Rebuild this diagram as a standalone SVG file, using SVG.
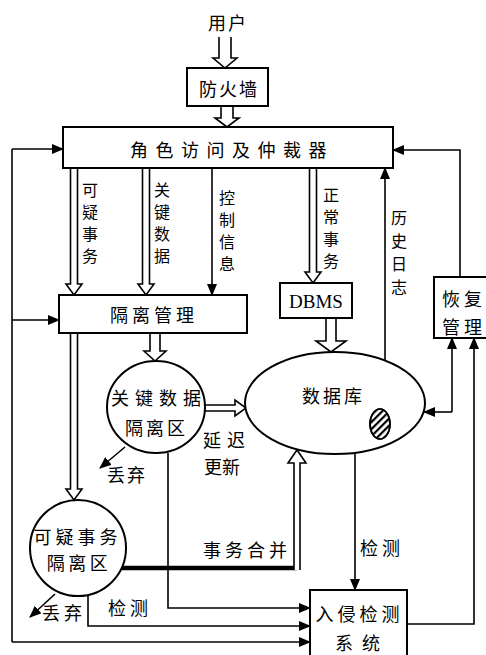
<svg xmlns="http://www.w3.org/2000/svg" width="486" height="655" viewBox="0 0 486 655">
<style>
.box{fill:#fff;stroke:#000;stroke-width:2}
.ln{fill:none;stroke:#000;stroke-width:1.6}
.thick{fill:none;stroke:#000;stroke-width:4.5}
.hol{fill:#fff;stroke:#000;stroke-width:1.6;stroke-linejoin:miter}
.t{font-family:"Noto Sans CJK SC","Noto Sans CJK JP",sans-serif;font-size:18px;text-anchor:middle;dominant-baseline:central;fill:#000}
.v{font-family:"Noto Sans CJK SC","Noto Sans CJK JP",sans-serif;font-size:16px;text-anchor:middle;dominant-baseline:central;fill:#000}
.s{font-family:"Liberation Serif",serif;font-size:19px;text-anchor:middle;dominant-baseline:central;fill:#000}
</style>
<defs>
<marker id="ah" markerWidth="12" markerHeight="10" refX="11" refY="5" orient="auto" markerUnits="userSpaceOnUse"><path d="M0,0 L12,5 L0,10 z" fill="#000"/></marker>
<pattern id="hatch" width="5" height="5" patternUnits="userSpaceOnUse" patternTransform="rotate(-45)"><rect width="5" height="2.2" fill="#000"/></pattern>
</defs>
<rect width="486" height="655" fill="#fff"/>

<g id="connectors">
  <polyline class="hol" points="219,37 219,58 213,58 225,68 237,58 231,58 231,37"/>
  <polyline class="hol" points="221,106 221,118 215,118 227,127 239,118 233,118 233,106"/>
  <polyline class="hol" points="70.5,168 70.5,284 66,284 74,295 82,284 77.5,284 77.5,168"/>
  <polyline class="hol" points="142.5,168 142.5,284 138,284 146,295 154,284 149.5,284 149.5,168"/>
  <line class="ln" x1="212" y1="168" x2="212" y2="295" marker-end="url(#ah)"/>
  <polyline class="hol" points="309.5,168 309.5,272 305,272 313,283 321,272 316.5,272 316.5,168"/>
  <line class="ln" x1="385" y1="361" x2="385" y2="168" marker-end="url(#ah)"/>
  <path class="ln" d="M12,149 V642"/>
  <line class="ln" x1="12" y1="149" x2="63" y2="149" marker-end="url(#ah)"/>
  <line class="ln" x1="12" y1="320" x2="59" y2="320" marker-end="url(#ah)"/>
  <line class="ln" x1="12" y1="642" x2="310" y2="642" marker-end="url(#ah)"/>
  <path class="ln" d="M460,277 V150 H393" marker-end="url(#ah)"/>
  <polyline class="hol" points="150,333 150,351 144,351 155,361 166,351 160,351 160,333"/>
  <polyline class="hol" points="70.5,333 70.5,489 66,489 74,500 82,489 77.5,489 77.5,333"/>
  <polyline class="hol" points="326,318 326,341 316,341 331,352 346,341 336,341 336,318"/>
  <polyline class="hol" points="205,405 235,405 235,400 246,408 235,416 235,411 205,411"/>
  <line class="ln" x1="125" y1="447" x2="100" y2="468" marker-end="url(#ah)"/>
  <line class="ln" x1="55" y1="594" x2="30" y2="617" marker-end="url(#ah)"/>
  <path class="thick" d="M115,568 H297"/>
  <polyline class="hol" points="294,570 294,463 288,463 297,450 306,463 300,463 300,570"/>
  <path class="ln" d="M168,453 V608 H310" marker-end="url(#ah)"/>
  <path class="ln" d="M88,595 V626 H310" marker-end="url(#ah)"/>
  <line class="ln" x1="355" y1="453" x2="355" y2="590" marker-end="url(#ah)"/>
  <path class="ln" d="M452,412 V338" marker-end="url(#ah)"/>
  <path class="ln" d="M452,412 H424" marker-end="url(#ah)"/>
  <path class="ln" d="M407,624 H474 V338" marker-end="url(#ah)"/>
</g>

<g id="user"><text class="t" x="228" y="22" letter-spacing="2">用户</text></g>
<g id="firewall"><rect class="box" x="187" y="68" width="81" height="38"/><text class="t" x="229" y="88" letter-spacing="2">防火墙</text></g>
<g id="arbiter"><rect class="box" x="63" y="127" width="330" height="41"/><text class="t" x="232" y="149" letter-spacing="7.5">角色访问及仲裁器</text></g>
<g id="isolation"><rect class="box" x="59" y="295" width="188" height="38"/><text class="t" x="154" y="314" letter-spacing="4">隔离管理</text></g>
<g id="dbms"><rect class="box" x="280" y="283" width="72" height="35"/><text class="s" x="316" y="301">DBMS</text></g>
<g id="database"><ellipse class="box" cx="335" cy="403" rx="90" ry="51"/><text class="t" x="333.5" y="395" letter-spacing="3">数据库</text><ellipse cx="380" cy="424" rx="10" ry="15" fill="#fff" stroke="#000" stroke-width="1.6"/><ellipse cx="380" cy="424" rx="10" ry="15" fill="url(#hatch)" stroke="#000" stroke-width="1.6"/></g>
<g id="recovery"><rect class="box" x="434" y="277" width="60" height="61"/><text class="t" x="464" y="298" letter-spacing="4">恢复</text><text class="t" x="464" y="326" letter-spacing="4">管理</text></g>
<g id="keydata"><ellipse class="box" cx="156" cy="407" rx="49" ry="46"/><text class="t" x="159" y="397" letter-spacing="6">关键数据</text><text class="t" x="156.5" y="427" letter-spacing="3">隔离区</text></g>
<g id="suspicious"><circle class="box" cx="78" cy="548" r="48"/><text class="t" x="77.5" y="536" letter-spacing="4">可疑事务</text><text class="t" x="79" y="562" letter-spacing="3.5">隔离区</text></g>
<g id="ids"><rect class="box" x="310" y="590" width="97" height="70"/><text class="t" x="359.5" y="613" letter-spacing="4">入侵检测</text><text class="t" x="362" y="642" letter-spacing="9">系统</text></g>

<g id="labels">
  <text class="v" x="90" y="189">可</text><text class="v" x="90" y="211">疑</text><text class="v" x="90" y="233">事</text><text class="v" x="90" y="255">务</text>
  <text class="v" x="162" y="189">关</text><text class="v" x="162" y="211">键</text><text class="v" x="162" y="233">数</text><text class="v" x="162" y="255">据</text>
  <text class="v" x="227" y="197">控</text><text class="v" x="227" y="219">制</text><text class="v" x="227" y="241">信</text><text class="v" x="227" y="263">息</text>
  <text class="v" x="331" y="194">正</text><text class="v" x="331" y="216">常</text><text class="v" x="331" y="238">事</text><text class="v" x="331" y="260">务</text>
  <text class="v" x="399" y="217">历</text><text class="v" x="399" y="240">史</text><text class="v" x="399" y="263">日</text><text class="v" x="399" y="286">志</text>
  <text class="t" x="227" y="439" letter-spacing="6">延迟</text>
  <text class="t" x="222" y="466">更新</text>
  <text class="t" x="127" y="474" letter-spacing="2">丢弃</text>
  <text class="t" x="64" y="612" letter-spacing="4">丢弃</text>
  <text class="t" x="130" y="607" letter-spacing="4">检测</text>
  <text class="t" x="247" y="549" letter-spacing="4">事务合并</text>
  <text class="t" x="382" y="547" letter-spacing="4">检测</text>
</g>
</svg>
